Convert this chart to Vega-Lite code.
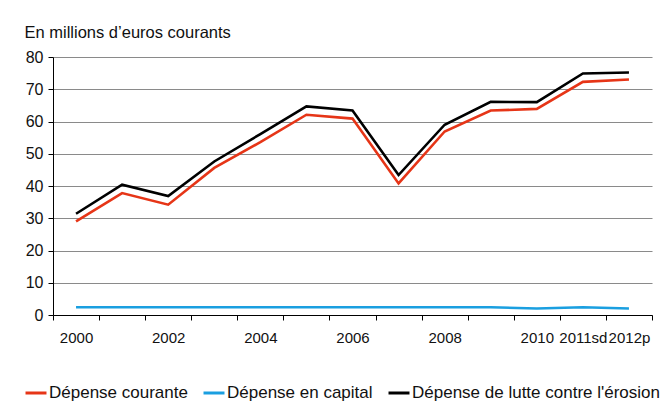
{
  "$schema": "https://vega.github.io/schema/vega-lite/v6.json",
  "width": 599,
  "height": 258,
  "autosize": {"type": "none"},
  "padding": {"left": 53, "top": 57, "right": 12, "bottom": 105},
  "background": "white",
  "config": {
    "font": "Liberation Sans",
    "view": {"stroke": null},
    "axis": {"labelFont": "Liberation Sans", "titleFont": "Liberation Sans", "labelColor": "#111", "titleColor": "#111"}
  },
  "data": {
    "values": [
      {"year": "2000", "series": "Dépense courante", "value": 29.0},
      {"year": "2001", "series": "Dépense courante", "value": 37.8},
      {"year": "2002", "series": "Dépense courante", "value": 34.2},
      {"year": "2003", "series": "Dépense courante", "value": 45.6},
      {"year": "2004", "series": "Dépense courante", "value": 53.6},
      {"year": "2005", "series": "Dépense courante", "value": 62.1},
      {"year": "2006", "series": "Dépense courante", "value": 60.9},
      {"year": "2007", "series": "Dépense courante", "value": 40.8},
      {"year": "2008", "series": "Dépense courante", "value": 56.9},
      {"year": "2009", "series": "Dépense courante", "value": 63.4},
      {"year": "2010", "series": "Dépense courante", "value": 63.9},
      {"year": "2011sd", "series": "Dépense courante", "value": 72.3},
      {"year": "2012p", "series": "Dépense courante", "value": 73.0},
      {"year": "2000", "series": "Dépense en capital", "value": 2.4},
      {"year": "2001", "series": "Dépense en capital", "value": 2.4},
      {"year": "2002", "series": "Dépense en capital", "value": 2.4},
      {"year": "2003", "series": "Dépense en capital", "value": 2.4},
      {"year": "2004", "series": "Dépense en capital", "value": 2.4},
      {"year": "2005", "series": "Dépense en capital", "value": 2.4},
      {"year": "2006", "series": "Dépense en capital", "value": 2.4},
      {"year": "2007", "series": "Dépense en capital", "value": 2.4},
      {"year": "2008", "series": "Dépense en capital", "value": 2.4},
      {"year": "2009", "series": "Dépense en capital", "value": 2.4},
      {"year": "2010", "series": "Dépense en capital", "value": 2.0},
      {"year": "2011sd", "series": "Dépense en capital", "value": 2.4},
      {"year": "2012p", "series": "Dépense en capital", "value": 2.0},
      {"year": "2000", "series": "Dépense de lutte contre l'érosion", "value": 31.4},
      {"year": "2001", "series": "Dépense de lutte contre l'érosion", "value": 40.4},
      {"year": "2002", "series": "Dépense de lutte contre l'érosion", "value": 36.9},
      {"year": "2003", "series": "Dépense de lutte contre l'érosion", "value": 47.6},
      {"year": "2004", "series": "Dépense de lutte contre l'érosion", "value": 56.1},
      {"year": "2005", "series": "Dépense de lutte contre l'érosion", "value": 64.7},
      {"year": "2006", "series": "Dépense de lutte contre l'érosion", "value": 63.4},
      {"year": "2007", "series": "Dépense de lutte contre l'érosion", "value": 43.4},
      {"year": "2008", "series": "Dépense de lutte contre l'érosion", "value": 59.0},
      {"year": "2009", "series": "Dépense de lutte contre l'érosion", "value": 66.1},
      {"year": "2010", "series": "Dépense de lutte contre l'érosion", "value": 66.0},
      {"year": "2011sd", "series": "Dépense de lutte contre l'érosion", "value": 74.9},
      {"year": "2012p", "series": "Dépense de lutte contre l'érosion", "value": 75.2}
    ]
  },
  "mark": {"type": "line", "strokeWidth": 2.6, "strokeJoin": "miter"},
  "encoding": {
    "x": {
      "field": "year",
      "type": "ordinal",
      "sort": null,
      "bandPosition": 0.5,
      "scale": {"type": "band", "paddingInner": 0, "paddingOuter": 0},
      "axis": {
        "title": null,
        "labelAngle": 0,
        "labelFontSize": 15,
        "labelPadding": 10,
        "labelExpr": "indexof(['2001','2003','2005','2007','2009'], datum.value) >= 0 ? '' : datum.value",
        "tickBand": "extent",
        "tickSize": 5,
        "tickColor": "#000",
        "domainColor": "#000",
        "domainWidth": 1,
        "grid": false
      }
    },
    "y": {
      "field": "value",
      "type": "quantitative",
      "scale": {"domain": [0, 80], "nice": false},
      "axis": {
        "values": [0, 10, 20, 30, 40, 50, 60, 70, 80],
        "title": "En millions d’euros courants",
        "titleAngle": 0,
        "titleAlign": "left",
        "titleBaseline": "alphabetic",
        "titleX": -29,
        "titleY": -20,
        "titleFontSize": 16.5,
        "titleFontWeight": "normal",
        "labelFontSize": 16,
        "labelPadding": 5,
        "tickSize": 5,
        "tickColor": "#000",
        "domainColor": "#000",
        "grid": true,
        "gridColor": "#8a8a8a",
        "gridWidth": 1.2
      }
    },
    "color": {
      "field": "series",
      "type": "nominal",
      "scale": {
        "domain": ["Dépense courante", "Dépense en capital", "Dépense de lutte contre l'érosion"],
        "range": ["#e63517", "#1a9fe0", "#000000"]
      },
      "legend": {
        "title": null,
        "orient": "none",
        "direction": "horizontal",
        "legendX": -29,
        "legendY": 324,
        "symbolType": "stroke",
        "symbolSize": 440,
        "symbolStrokeWidth": 3,
        "labelFontSize": 17,
        "labelOffset": 1,
        "columnPadding": 9,
        "labelLimit": 400,
        "labelColor": "#111"
      }
    }
  }
}
